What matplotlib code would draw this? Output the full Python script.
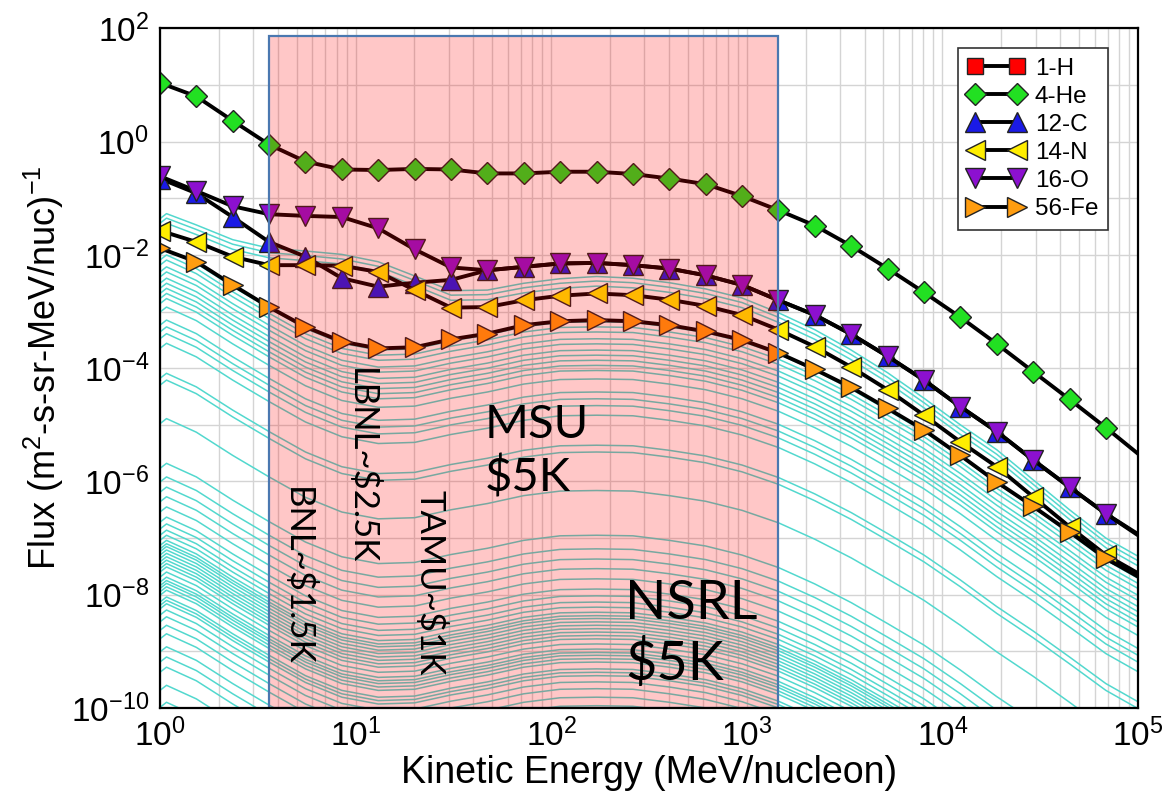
import numpy as np
import matplotlib
matplotlib.use("Agg")
import matplotlib.pyplot as plt
from matplotlib.patches import Rectangle
from matplotlib.ticker import NullFormatter, FixedLocator

plt.rcParams['font.family'] = ['Liberation Sans', 'DejaVu Sans']
plt.rcParams['mathtext.default'] = 'regular'
plt.rcParams['axes.unicode_minus'] = False

# marker energies (MeV/nucleon), last point of each line is the 1e5 edge
energy = [1.0, 1.535, 2.355, 3.614, 5.546, 8.51, 13.06, 20.04, 30.76, 47.2,
          72.4, 111, 170.6, 261.8, 401.8, 616.6, 946, 1452, 2228, 3420,
          5248, 8054, 12360, 18970, 29100, 44670, 68550, 100000]

# log10 flux
he_log = [1.04, 0.80, 0.37, -0.05, -0.35, -0.49, -0.50, -0.48, -0.49, -0.56,
          -0.56, -0.53, -0.53, -0.57, -0.65, -0.75, -0.96, -1.21, -1.48, -1.84,
          -2.24, -2.66, -3.10, -3.57, -4.06, -4.55, -5.05, -5.51]
c_log = [-0.65, -0.91, -1.33, -1.77, -2.03, -2.41, -2.56, -2.49, -2.44, -2.27,
         -2.21, -2.15, -2.14, -2.18, -2.24, -2.36, -2.53, -2.80, -3.06, -3.40,
         -3.79, -4.21, -4.68, -5.12, -5.62, -6.10, -6.57, -6.93]
n_log = [-1.57, -1.77, -2.03, -2.18, -2.18, -2.19, -2.30, -2.62, -2.93, -2.92,
         -2.80, -2.72, -2.68, -2.71, -2.79, -2.90, -3.06, -3.32, -3.62, -3.98,
         -4.38, -4.83, -5.30, -5.74, -6.27, -6.80, -7.30, -7.62]
o_log = [-0.61, -0.87, -1.14, -1.28, -1.31, -1.33, -1.53, -1.90, -2.22, -2.27,
         -2.21, -2.15, -2.14, -2.18, -2.24, -2.36, -2.53, -2.80, -3.06, -3.40,
         -3.79, -4.21, -4.68, -5.12, -5.62, -6.10, -6.57, -6.95]
fe_log = [-1.88, -2.12, -2.53, -2.92, -3.27, -3.53, -3.65, -3.63, -3.49, -3.39,
          -3.24, -3.17, -3.15, -3.17, -3.24, -3.35, -3.50, -3.73, -4.02, -4.34,
          -4.71, -5.09, -5.54, -6.01, -6.44, -6.89, -7.36, -7.68]

# background ions (cyan): spectral shapes relative to peak, plus peak levels
cyan_energy = [1.0, 1.08] + energy[1:]
heavy_shape = [-0.09, 0.0, -0.24, -0.65, -1.03, -1.39, -1.65, -1.77, -1.75, -1.61,
               -1.50, -1.36, -1.28, -1.27, -1.28, -1.36, -1.46, -1.62, -1.84, -2.13,
               -2.46, -2.83, -3.21, -3.65, -4.12, -4.55, -5.01, -5.48, -5.80]
light_shape = [-0.09, 0.0, -0.20, -0.46, -0.61, -0.66, -0.72, -0.85, -1.10, -1.36,
               -1.35, -1.23, -1.15, -1.11, -1.14, -1.22, -1.33, -1.49, -1.75, -2.05,
               -2.41, -2.81, -3.26, -3.73, -4.17, -4.70, -5.23, -5.73, -6.05]
light_levels = [-1.27, -1.35, -1.44]
heavy_levels = [-1.91, -2.00, -2.09, -2.21, -2.30, -2.41, -2.50, -2.59, -2.68, -2.77,
                -2.92, -3.15, -3.27, -3.39, -3.56, -4.09, -4.21, -4.89, -5.68, -5.92,
                -6.10, -6.27, -6.45, -6.63, -6.75, -6.86, -6.95, -7.04, -7.10, -7.15,
                -7.21, -7.27, -7.33, -7.39, -7.45, -7.51, -7.60, -7.69, -7.75, -7.80,
                -7.86, -7.92, -8.04, -8.10, -8.16, -8.27, -8.39, -8.54, -8.69, -8.92,
                -9.10, -9.28, -9.60, -9.90]

# facility band
band_lo, band_hi, band_top = 3.6, 1450, 75

fig = plt.figure(figsize=(11.71, 8.09), dpi=100)
ax = fig.add_axes([0.1366, 0.1249, 0.8352, 0.8399])
ax.set_xscale('log')
ax.set_yscale('log')

cyan = '#52d8ce'
for lvl in light_levels:
    ax.plot(cyan_energy, 10 ** (lvl + np.array(light_shape)), color=cyan, lw=1.1, zorder=1)
for lvl in heavy_levels:
    ax.plot(cyan_energy, 10 ** (lvl + np.array(heavy_shape)), color=cyan, lw=1.1, zorder=1)

series = [
    ('1-H', None, 's', '#ff0000', 12),
    ('4-He', he_log, 'D', '#22e022', 11.5),
    ('12-C', c_log, '^', '#1a1ae6', 14),
    ('14-N', n_log, '<', '#ffee00', 14),
    ('16-O', o_log, 'v', '#8c10d0', 14),
    ('56-Fe', fe_log, '>', '#ff9d10', 14),
]
for label, vals, mk, col, ms in series:
    if vals is None:
        x, y = [], []
    else:
        x, y = energy, 10 ** np.array(vals)
    ax.plot(x, y, '-', color='black', lw=2.8, marker=mk, ms=ms, mfc=col,
            mec='#222222', mew=1.0, markevery=slice(0, 27), label=label, zorder=3)

ax.add_patch(Rectangle((band_lo, 1e-10), band_hi - band_lo, band_top - 1e-10,
                       facecolor='#ff0000', alpha=0.22, edgecolor='none', zorder=5))
ax.add_patch(Rectangle((band_lo, 1e-10), band_hi - band_lo, band_top - 1e-10,
                       fill=False, edgecolor='#4a78b0', lw=1.6, zorder=6))

# facility labels (log10 energy, log10 flux of the anchor)
tfont = ['Lato', 'DejaVu Sans']
vlabels = [('LBNL~$2.5K', 1.03, -3.99), ('BNL~$1.5K', 0.70, -6.10),
           ('TAMU~$1K', 1.38, -6.15)]
for txt, lx, ly in vlabels:
    ax.text(10 ** lx, 10 ** ly, txt, rotation=270, fontsize=25, family=tfont,
            ha='center', va='top', zorder=7)
ax.text(10 ** 1.66, 10 ** -4.64, 'MSU\n$5K', fontsize=34, family=tfont, ha='left',
        va='top', linespacing=1.25, zorder=7)
ax.text(10 ** 2.38, 10 ** -7.72, 'NSRL\n$5K', fontsize=39, family=tfont, ha='left',
        va='top', linespacing=1.25, zorder=7)

ax.set_xlim(1, 1e5)
ax.set_ylim(1e-10, 1e2)
ax.set_xticks([1e0, 1e1, 1e2, 1e3, 1e4, 1e5])
ax.set_yticks([1e2, 1e0, 1e-2, 1e-4, 1e-6, 1e-8, 1e-10])
ax.yaxis.set_minor_locator(FixedLocator([10.0 ** k for k in range(-10, 3)]))
ax.yaxis.set_minor_formatter(NullFormatter())
ax.tick_params(which='both', direction='in', length=0, labelsize=24, pad=8)
ax.grid(True, which='both', color='#d4d4d4', lw=1.0, zorder=0)
ax.set_axisbelow(True)
for s in ax.spines.values():
    s.set_linewidth(1.6)
    s.set_zorder(8)

ax.set_xlabel('Kinetic Energy (MeV/nucleon)', fontsize=27, labelpad=1)
ax.set_ylabel('Flux (m$^2$-s-sr-MeV/nuc)$^{-1}$', fontsize=26, labelpad=3)

leg = ax.legend(loc='upper right', bbox_to_anchor=(0.9693, 0.9715), fontsize=17.5,
                numpoints=2, handlelength=2.3, labelspacing=0.25, borderpad=0.4,
                handletextpad=0.45, borderaxespad=0, fancybox=False, framealpha=1,
                edgecolor='#333333')
leg.get_frame().set_linewidth(1.2)
leg.set_zorder(10)

fig.savefig('out.png', dpi=100)
